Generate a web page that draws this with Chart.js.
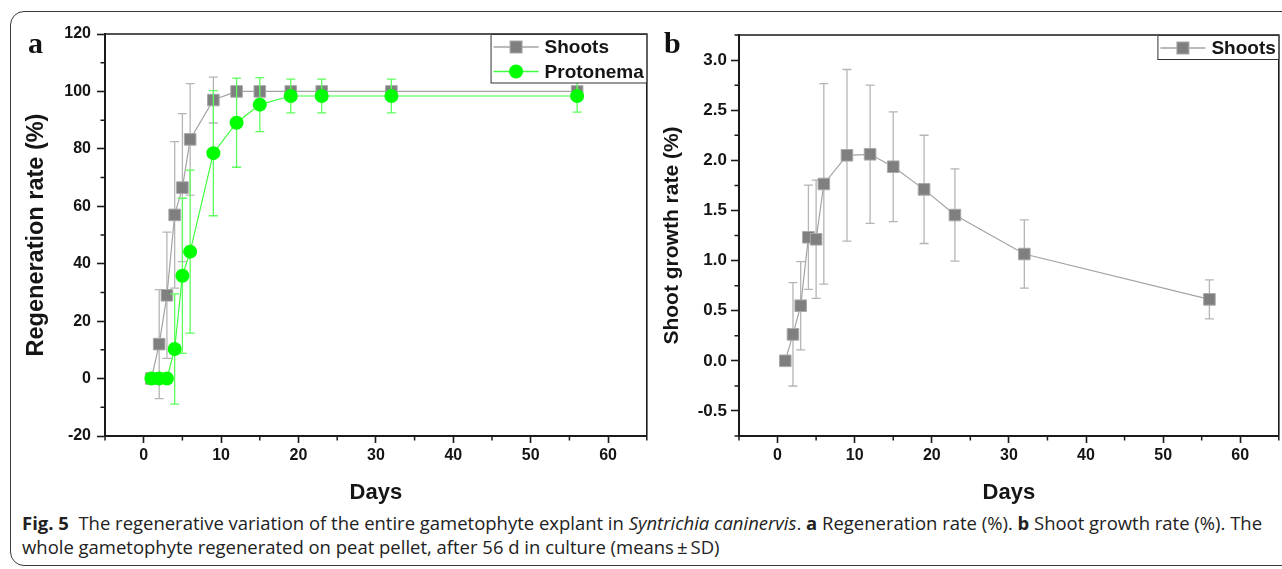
<!DOCTYPE html>
<html><head><meta charset="utf-8">
<script src="https://cdn.jsdelivr.net/npm/chart.js@4.4.1/dist/chart.umd.min.js"></script>
<style>
html,body{margin:0;padding:0;background:#fff;}
body{width:1282px;height:569px;position:relative;overflow:hidden;font-family:"Liberation Sans",Arial,sans-serif;}
#frame{position:absolute;left:10px;top:11px;width:1300px;height:555px;border:1.3px solid #3a3a3a;border-radius:14px;box-sizing:border-box;}
#cA{position:absolute;left:0;top:0;}
#cB{position:absolute;left:650px;top:0;}
.panel{position:absolute;font-family:"Liberation Serif","Times New Roman",serif;font-weight:bold;font-size:30px;line-height:30px;color:#111;}
.cap{position:absolute;left:22px;white-space:nowrap;font-family:"Open Sans","Noto Sans",sans-serif;font-size:18px;line-height:24px;color:#222;transform-origin:0 50%;}
.cap b{font-weight:700;}
</style></head>
<body>
<div id="frame"></div>
<canvas id="cA" width="656" height="510"></canvas>
<canvas id="cB" width="638" height="510"></canvas>
<div class="panel" style="left:28px;top:28px;">a</div>
<div class="panel" style="left:664px;top:28px;">b</div>
<div class="cap" id="cap1" style="top:511px;"><b>Fig. 5</b>&nbsp; The regenerative variation of the entire gametophyte explant in <i>Syntrichia caninervis</i>. <b>a</b> Regeneration rate (%). <b>b</b> Shoot growth rate (%). The</div>
<div class="cap" id="cap2" style="top:535px;">whole gametophyte regenerated on peat pellet, after 56&nbsp;d in culture (means&thinsp;±&thinsp;SD)</div>
<script>
// ---------- data ----------
const days = [1, 2, 3, 4, 5, 6, 9, 12, 15, 19, 23, 32, 56];
const shootsRegen   = [0, 12, 29, 57, 66.5, 83.3, 97, 100, 100, 100, 100, 100, 100];
const shootsRegenSD = [0, 19, 22, 25.5, 25.8, 19.4, 8, 0, 0, 0, 0, 0, 0];
const protoRegen    = [0, 0, 0, 10.3, 35.8, 44.2, 78.5, 89.1, 95.4, 98.4, 98.4, 98.4, 98.4];
const protoRegenSD  = [0, 0, 0, 19.2, 27, 28.4, 21.8, 15.5, 9.4, 5.9, 5.9, 5.9, 5.6];
const shootGrowth   = [0, 0.264, 0.55, 1.232, 1.212, 1.764, 2.05, 2.06, 1.936, 1.71, 1.454, 1.065, 0.613];
const shootGrowthSD = [0, 0.515, 0.44, 0.52, 0.59, 1.0, 0.856, 0.69, 0.547, 0.54, 0.46, 0.34, 0.195];
const xTicks = [0, 10, 20, 30, 40, 50, 60];
const regenTicks = [-20, 0, 20, 40, 60, 80, 100, 120];
const growthTicks = [-0.5, 0.0, 0.5, 1.0, 1.5, 2.0, 2.5, 3.0];

const SANS = '"Liberation Sans", Arial, sans-serif';
const INK = '#151515';
const AXIS = '#1a1a1a';

function pts(vals){ return days.map((d,i)=>({x:d, y:vals[i]})); }

// ---------- plugins ----------
const errorBars = {
  id:'errorBars',
  beforeDatasetDraw(chart, args){
    const ds = chart.data.datasets[args.index];
    if(!ds.sd) return;
    const {ctx, chartArea:ca} = chart;
    const ys = chart.scales.y, xs = chart.scales.x;
    ctx.save();
    ctx.beginPath(); ctx.rect(ca.left, ca.top, ca.right-ca.left, ca.bottom-ca.top); ctx.clip();
    ctx.strokeStyle = ds.errColor; ctx.lineWidth = 1.3;
    ds.data.forEach((p,i)=>{
      const sd = ds.sd[i]; if(!sd) return;
      const x = xs.getPixelForValue(p.x);
      const y1 = ys.getPixelForValue(p.y + sd), y2 = ys.getPixelForValue(p.y - sd);
      ctx.beginPath();
      ctx.moveTo(x, y1); ctx.lineTo(x, y2);
      ctx.moveTo(x-4.5, y1); ctx.lineTo(x+4.5, y1);
      ctx.moveTo(x-4.5, y2); ctx.lineTo(x+4.5, y2);
      ctx.stroke();
    });
    ctx.restore();
  }
};

function minorValues(ticks, min, max){
  const out = [];
  const step = ticks[1]-ticks[0];
  for(let v = ticks[0]-step/2; v <= max + 1e-9; v += step){
    if(v >= min - 1e-9) out.push(v);
  }
  return out;
}

const frameAndMinor = {
  id:'frameAndMinor',
  afterDraw(chart){
    const {ctx, chartArea:ca} = chart;
    const xs = chart.scales.x, ys = chart.scales.y;
    ctx.save();
    ctx.strokeStyle = AXIS;
    ctx.lineWidth = 1.6;
    ctx.beginPath();
    ctx.moveTo(ca.left, ca.top); ctx.lineTo(ca.right, ca.top); ctx.lineTo(ca.right, ca.bottom);
    ctx.stroke();
    ctx.lineWidth = 1.5;
    ctx.beginPath();
    minorValues(xs.ticks.map(t=>t.value), xs.min, xs.max).forEach(v=>{
      const x = xs.getPixelForValue(v);
      ctx.moveTo(x, ca.bottom); ctx.lineTo(x, ca.bottom+4.5);
    });
    minorValues(ys.ticks.map(t=>t.value), ys.min, ys.max).forEach(v=>{
      const y = ys.getPixelForValue(v);
      ctx.moveTo(ca.left, y); ctx.lineTo(ca.left-4.5, y);
    });
    ctx.stroke();
    ctx.restore();
  }
};

const boxLegend = {
  id:'boxLegend',
  afterDraw(chart){
    const {ctx, chartArea:ca} = chart;
    const sets = chart.data.datasets;
    const font = 'bold 19px ' + SANS;
    ctx.save();
    ctx.font = font;
    const tw = Math.max(...sets.map(s=>ctx.measureText(s.label).width));
    const rowH = 24.5;
    const w = 54 + tw + 3, h = sets.length*rowH;
    const L = ca.right - w, T = ca.top;
    ctx.fillStyle = '#fff';
    ctx.fillRect(L, T, w, h);
    ctx.strokeStyle = '#333'; ctx.lineWidth = 1;
    ctx.strokeRect(L+0.5, T+0.5, w-0.5, h-0.5);
    sets.forEach((s,i)=>{
      const cy = T + 13 + i*rowH;
      ctx.strokeStyle = s.borderColor; ctx.lineWidth = 1.3;
      ctx.beginPath(); ctx.moveTo(L+3, cy); ctx.lineTo(L+48, cy); ctx.stroke();
      const mx = L+25.5;
      ctx.fillStyle = s.pointBackgroundColor;
      ctx.strokeStyle = s.pointBorderColor;
      ctx.lineWidth = 1;
      if(s.pointStyle === 'rect'){
        ctx.fillRect(mx-6, cy-6, 12, 12); ctx.strokeRect(mx-6, cy-6, 12, 12);
      } else {
        ctx.beginPath(); ctx.arc(mx, cy, 7, 0, Math.PI*2); ctx.fill();
      }
      ctx.fillStyle = INK; ctx.textBaseline = 'middle'; ctx.textAlign = 'left';
      ctx.fillText(s.label, L+54, cy+1);
    });
    ctx.restore();
  }
};

function shootsDS(vals, sd){
  return {
    label:'Shoots', data:pts(vals), sd:sd, errColor:'#b5b5b5',
    borderColor:'#a3a3a3', borderWidth:1.2,
    pointStyle:'rect', pointRadius:8.2, pointBackgroundColor:'#7f7f7f', pointBorderColor:'#a9a9a9', pointBorderWidth:1,
    order:1, tension:0
  };
}

function makeOptions(cfg){
  const tickFont = {family:SANS, weight:'bold', size:16};
  return {
    responsive:false, animation:false, events:[],
    layout:{padding:{left:0, top:cfg.top, right:cfg.right, bottom:0}},
    plugins:{legend:{display:false}, tooltip:{enabled:false}},
    scales:{
      x:{
        type:'linear', min:-5, max:65,
        afterBuildTicks:s=>{ s.ticks = xTicks.map(v=>({value:v})); },
        afterFit:s=>{ s.height = 74; },
        grid:{drawOnChartArea:false, drawTicks:true, tickLength:7, tickWidth:1.6, tickColor:AXIS},
        border:{display:true, color:AXIS, width:2},
        ticks:{font:tickFont, color:INK, padding:3, maxRotation:0, autoSkip:false, callback:v=>String(v)},
        title:{display:true, text:'Days', color:INK, font:{family:SANS, weight:'bold', size:22}, padding:{top:0, bottom:4}}
      },
      y:{
        type:'linear', min:cfg.ymin, max:cfg.ymax,
        afterBuildTicks:s=>{ s.ticks = cfg.yticks.map(v=>({value:v})); },
        afterFit:s=>{ s.width = cfg.yw; },
        grid:{drawOnChartArea:false, drawTicks:true, tickLength:8, tickWidth:1.6, tickColor:AXIS},
        border:{display:true, color:AXIS, width:2},
        ticks:{font:{family:SANS, weight:'bold', size:cfg.tfs}, color:INK, padding:cfg.tp, autoSkip:false, callback:cfg.fmt},
        title:{display:true, text:cfg.ytitle, color:INK, font:{family:SANS, weight:'bold', size:cfg.ts}, padding:{top:cfg.tpad, bottom:0}}
      }
    }
  };
}

new Chart(document.getElementById('cA'), {
  type:'line',
  data:{datasets:[
    shootsDS(shootsRegen, shootsRegenSD),
    {
      label:'Protonema', data:pts(protoRegen), sd:protoRegenSD, errColor:'#5cff5c',
      borderColor:'#3dff3d', borderWidth:1.2,
      pointStyle:'circle', pointRadius:7, pointBackgroundColor:'#00ff00', pointBorderColor:'#00ff00', pointBorderWidth:0,
      order:0, tension:0
    }
  ]},
  options:makeOptions({top:34, right:8, ymin:-20, ymax:120, yticks:regenTicks, yw:105, tp:6, tfs:16,
    fmt:v=>String(v), ytitle:'Regeneration rate (%)', ts:23.5, tpad:22}),
  plugins:[errorBars, frameAndMinor, boxLegend]
});

new Chart(document.getElementById('cB'), {
  type:'line',
  data:{datasets:[ shootsDS(shootGrowth, shootGrowthSD) ]},
  options:makeOptions({top:35, right:3, ymin:-0.75, ymax:3.25, yticks:growthTicks, yw:89, tp:4, tfs:17,
    fmt:v=>Number(v).toFixed(1), ytitle:'Shoot growth rate (%)', ts:21, tpad:9.5}),
  plugins:[errorBars, frameAndMinor, boxLegend]
});

function fitCaption(){
  const c1 = document.getElementById('cap1'), c2 = document.getElementById('cap2');
  c1.style.transform = c2.style.transform = 'none';
  const k = 1240 / c1.getBoundingClientRect().width;
  c1.style.transform = c2.style.transform = 'scaleX(' + k + ')';
}
fitCaption();
if(document.fonts && document.fonts.ready) document.fonts.ready.then(fitCaption);
</script>
</body></html>
